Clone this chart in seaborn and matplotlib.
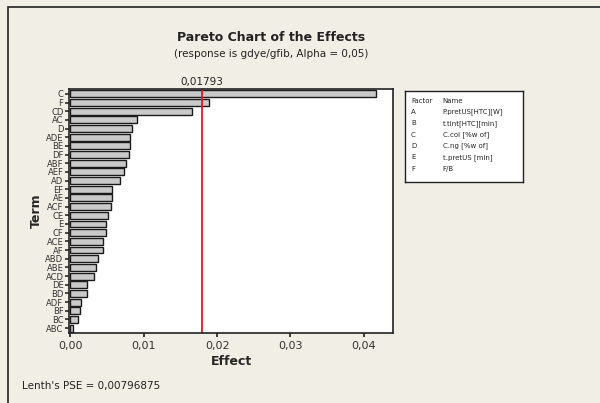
import matplotlib
matplotlib.use("Agg")
import matplotlib.pyplot as plt
import seaborn as sns
import pandas as pd
from matplotlib.patches import Rectangle

terms = ["C", "F", "CD", "AC", "D", "ADE", "BE", "DF", "ABF", "AEF", "AD", "EF", "AE", "ACF",
         "CE", "E", "CF", "ACE", "AF", "ABD", "ABE", "ACD", "DE", "BD", "ADF", "BF", "BC", "ABC"]
effects = [0.0417, 0.0189, 0.0166, 0.0091, 0.0084, 0.0081, 0.0081, 0.0080, 0.0076, 0.0073,
           0.0068, 0.0057, 0.0057, 0.0055, 0.0051, 0.0048, 0.0048, 0.0044, 0.0044, 0.0038,
           0.0035, 0.0032, 0.0023, 0.0023, 0.0015, 0.0013, 0.0010, 0.0004]
crit = 0.01793
factors = ["A", "B", "C", "D", "E", "F"]
names = ["P.pretUS[HTC][W]", "t.tint[HTC][min]", "C.col [%w of]", "C.ng [%w of]",
         "t.pretUS [min]", "F/B"]
xticks = [0.0, 0.01, 0.02, 0.03, 0.04]

sns.set_theme(style="white")
plt.rcParams['font.family'] = ['DejaVu Sans']
bg = "#f1eee6"

df = pd.DataFrame({"Term": terms, "Effect": effects})

fig = plt.figure(figsize=(6, 4.03), dpi=100, facecolor=bg)
fig.patches.append(Rectangle((0.013, -0.01), 1.0, 0.993, transform=fig.transFigure,
                             fill=False, edgecolor="#222222", linewidth=1.2))

ax = fig.add_axes([0.115, 0.174, 0.54, 0.605])
sns.barplot(data=df, x="Effect", y="Term", orient="h", color="#c9c9c9", edgecolor="#1a1a1a",
            linewidth=1.0, width=0.8, saturation=1, ax=ax)
ax.axvline(crit, color="#e8141b", linewidth=1.3)
ax.set_xlim(-0.0002, 0.0440)
ax.set_ylim(len(terms) - 0.45, -0.55)
ax.set_xticks(xticks)
ax.set_xticklabels([f"{t:.2f}".replace(".", ",") for t in xticks], fontsize=8, color="#333333")
ax.tick_params(axis="y", labelsize=6, pad=1, length=3, left=True, colors="#333333")
ax.tick_params(axis="x", length=3, bottom=True, pad=3)
for s in ax.spines.values():
    s.set_color("#222222")
    s.set_linewidth(1.2)
ax.set_xlabel("Effect", fontsize=9, fontweight="bold", labelpad=3)
ax.set_ylabel("Term", fontsize=9, fontweight="bold", labelpad=2)
ax.text(crit, 1.01, "0,01793", transform=ax.get_xaxis_transform(), ha="center", va="bottom",
        fontsize=7.5, color="#222222")

fig.text(0.452, 0.898, "Pareto Chart of the Effects", ha="center", fontsize=9,
         fontweight="bold", color="#222222")
fig.text(0.452, 0.858, "(response is gdye/gfib, Alpha = 0,05)", ha="center", fontsize=7.5,
         color="#222222")
fig.text(0.037, 0.035, "Lenth's PSE = 0,00796875", ha="left", fontsize=7.5, color="#222222")

# factor legend box
lax = fig.add_axes([0.675, 0.548, 0.197, 0.225])
lax.set_xticks([])
lax.set_yticks([])
lax.set_facecolor("white")
for s in lax.spines.values():
    s.set_color("#222222")
    s.set_linewidth(1.0)
lax.text(0.05, 0.9, "Factor", fontsize=5, transform=lax.transAxes, va="center")
lax.text(0.32, 0.9, "Name", fontsize=5, transform=lax.transAxes, va="center")
for i, (f, n) in enumerate(zip(factors, names)):
    y = 0.9 - (i + 1) * 0.125
    lax.text(0.05, y, f, fontsize=5, transform=lax.transAxes, va="center")
    lax.text(0.32, y, n, fontsize=5, transform=lax.transAxes, va="center")

fig.savefig("out.png", dpi=100, facecolor=bg)
